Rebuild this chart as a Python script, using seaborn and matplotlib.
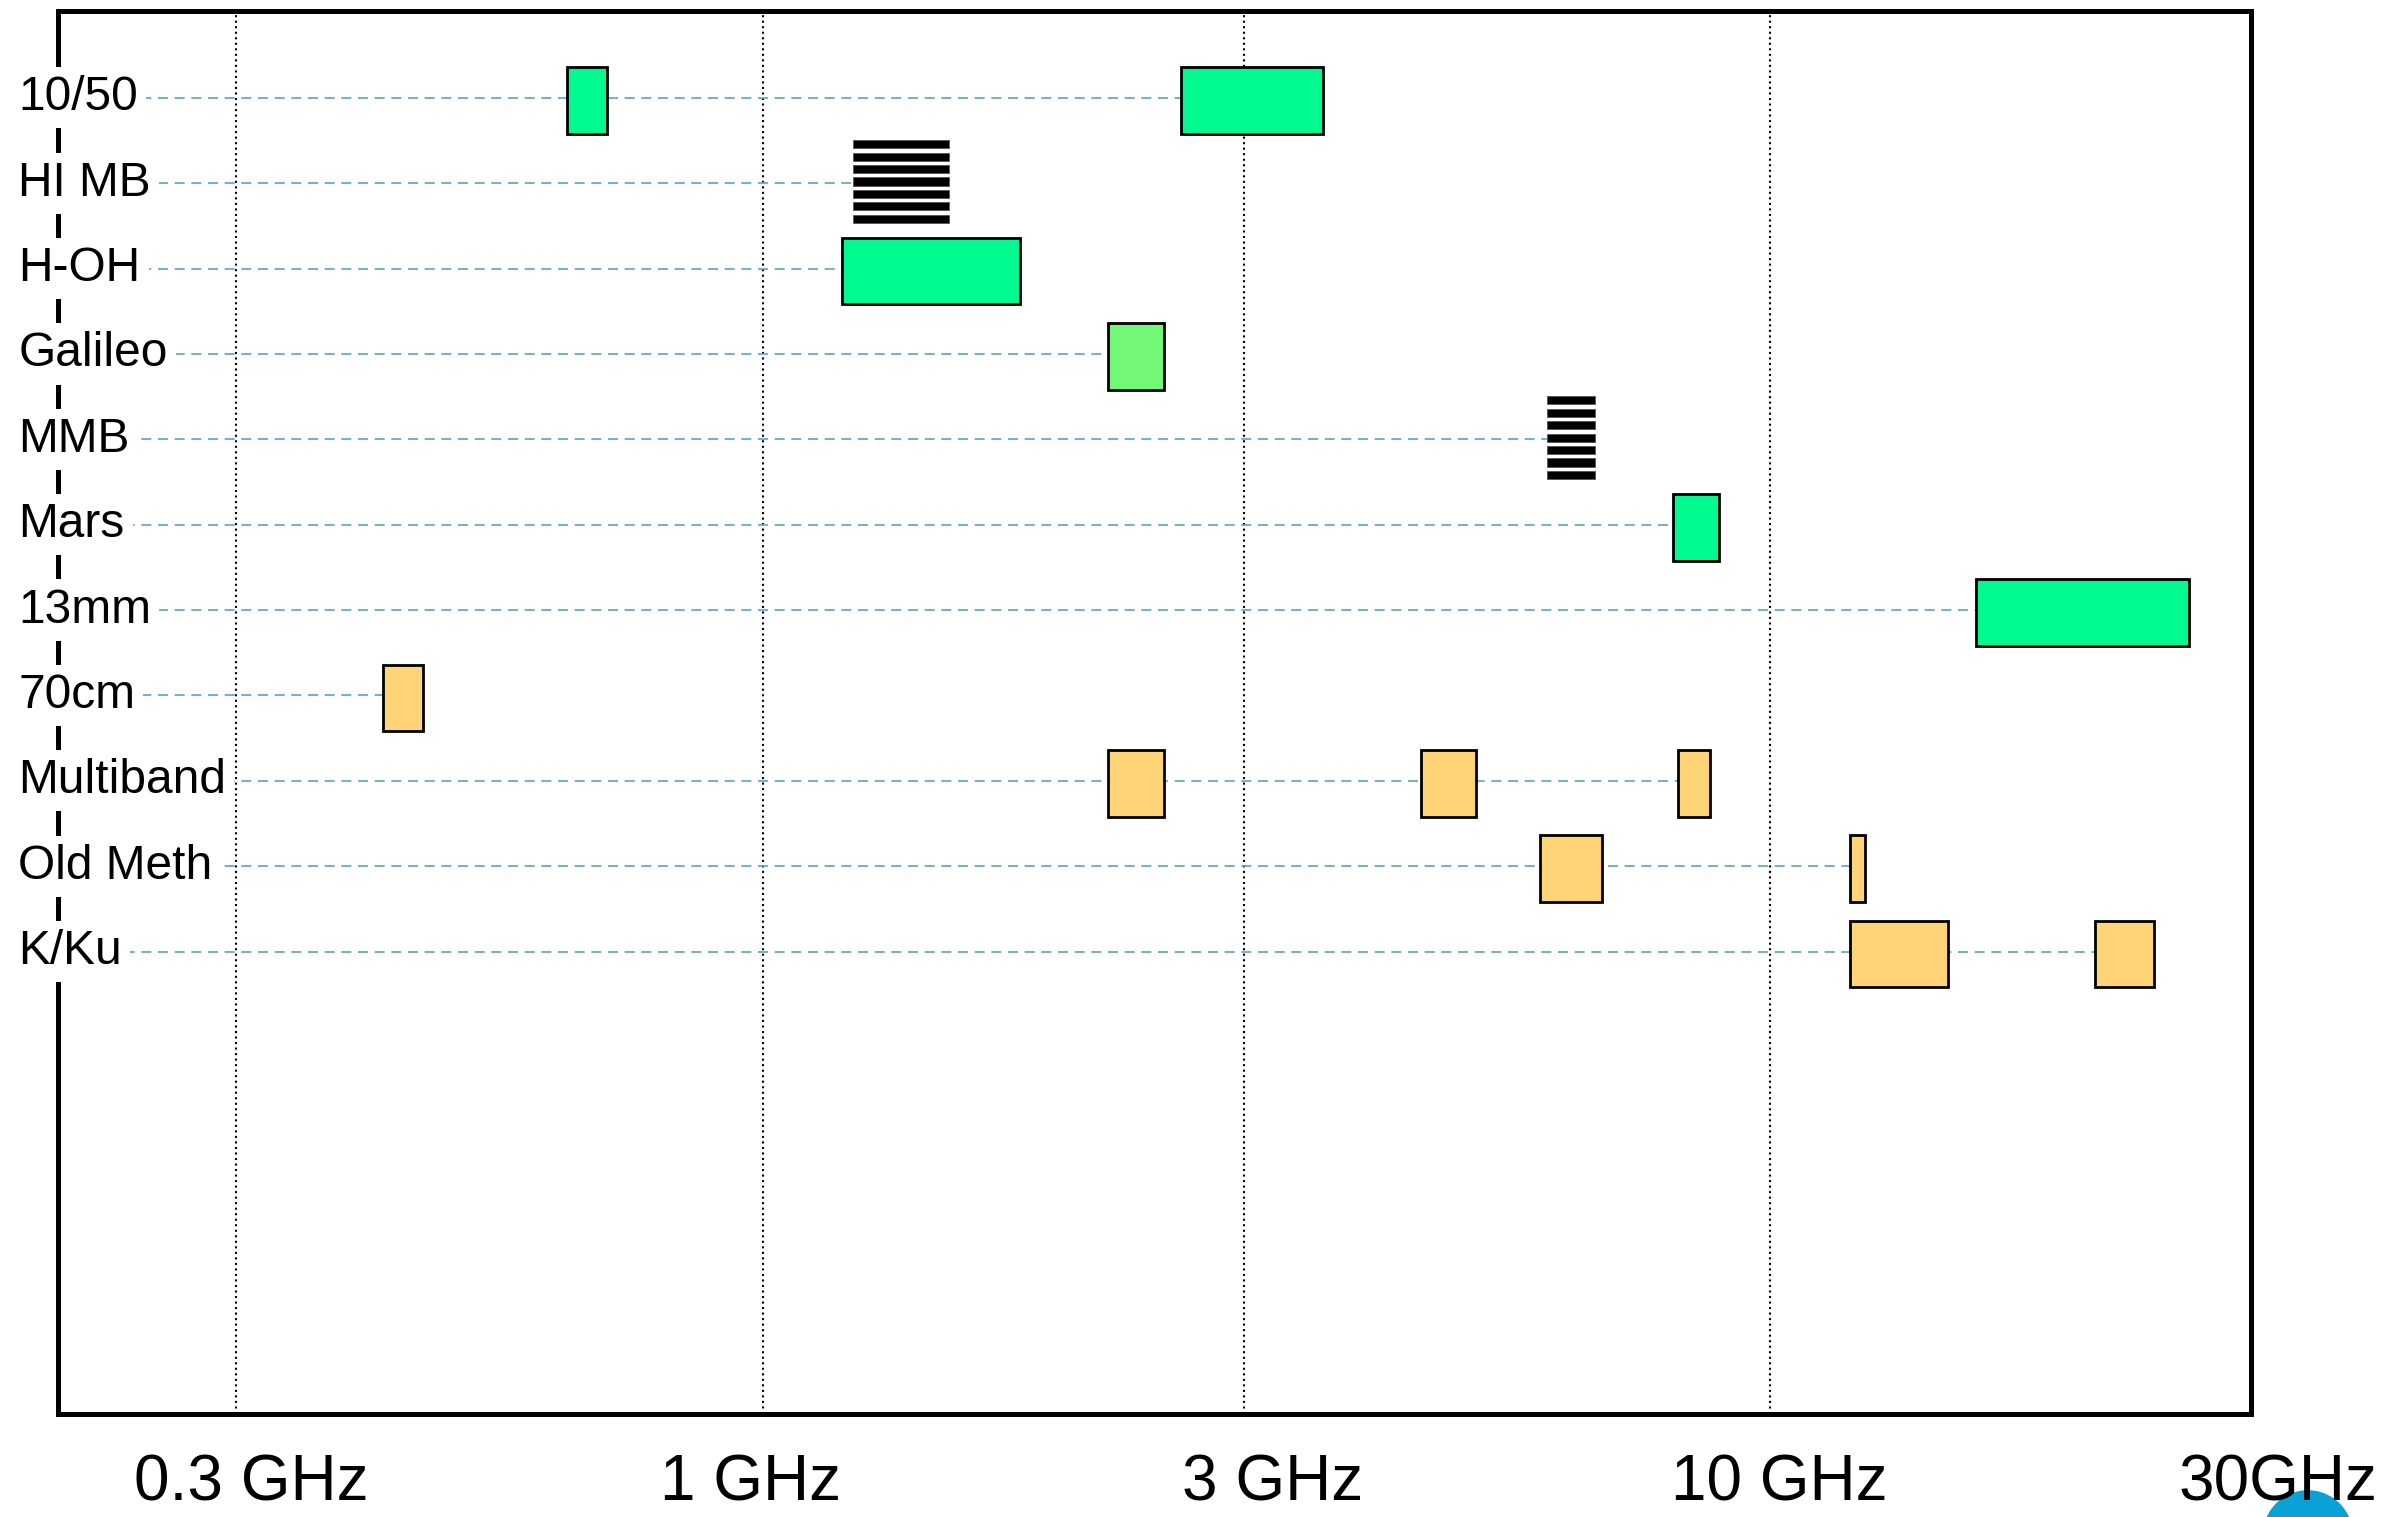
import numpy as np
import pandas as pd
import matplotlib
matplotlib.use("Agg")
import matplotlib.pyplot as plt
import matplotlib.transforms as mtransforms
from matplotlib.patches import Ellipse
from matplotlib.ticker import NullLocator
import seaborn as sns

# receiver / band rows, top to bottom
bands = ["10/50", "HI MB", "H-OH", "Galileo", "MMB", "Mars", "13mm",
         "70cm", "Multiband", "Old Meth", "K/Ku"]

# frequency coverage of each box (GHz)
seg_band = ["10/50", "10/50", "HI MB", "H-OH", "Galileo", "MMB", "Mars", "13mm",
            "70cm", "Multiband", "Multiband", "Multiband",
            "Old Meth", "Old Meth", "K/Ku", "K/Ku"]
seg_lo = [0.64, 2.6, 1.23, 1.2, 2.2, 6.0, 8.0, 16.0,
          0.42, 2.2, 4.5, 8.1, 5.9, 12.0, 12.0, 21.0]
seg_hi = [0.70, 3.6, 1.53, 1.8, 2.5, 6.7, 8.9, 26.0,
          0.46, 2.5, 5.1, 8.7, 6.8, 12.4, 15.0, 24.0]
seg_kind = ["green", "green", "striped", "green", "lightgreen", "striped", "green", "green",
            "orange", "orange", "orange", "orange", "orange", "orange", "orange", "orange"]

tick_freqs = [0.3, 1, 3, 10, 30]
tick_labels = ["0.3 GHz", "1 GHz", "3 GHz", "10 GHz", "30GHz"]
# the labels in the original are not quite centred on their ticks (points)
tick_nudge = [11, -9, 21, 6, 19]

kind_colors = {"green": "#00fa90", "lightgreen": "#73f777", "orange": "#fed477"}

df = pd.DataFrame({"band": seg_band, "lo": seg_lo, "hi": seg_hi, "kind": seg_kind})
df["row"] = df["band"].map({b: i for i, b in enumerate(bands)})

sns.set_theme(style="white")
plt.rcParams["font.family"] = ["Liberation Sans", "DejaVu Sans"]

fig = plt.figure(figsize=(24.03, 15.17), dpi=100)
ax = fig.add_axes([0.0242, 0.0677, 0.9127, 0.9252])
ax.set_xscale("log")
ax.set_xlim(0.2, 30)
ax.set_ylim(15.42, -1.02)

# dashed guide lines, from the left edge to the last box of each row
last_lo = df.groupby("band")["lo"].max()
guides = pd.DataFrame({
    "band": np.repeat(bands, 2),
    "freq": np.ravel([[0.2, last_lo[b]] for b in bands]),
    "row": np.repeat(np.arange(len(bands)), 2),
})
sns.lineplot(data=guides, x="freq", y="row", units="band", estimator=None,
             color="#5b9fd0", linewidth=1.2, linestyle=(0, (6, 4)), ax=ax, zorder=2)

# filled boxes
for kind, color in kind_colors.items():
    sub = df[df["kind"] == kind]
    ax.barh(sub["row"] + 0.03, sub["hi"] - sub["lo"], left=sub["lo"], height=0.78,
            color=color, edgecolor="black", linewidth=2.0, zorder=3)

# striped boxes (multibeam receivers)
n_stripes = 7
offsets = (np.arange(n_stripes) + 0.5) / n_stripes * 1.02 - 0.53
for _, s in df[df["kind"] == "striped"].iterrows():
    ax.barh(s["row"] + offsets, s["hi"] - s["lo"], left=s["lo"], height=0.095,
            color="black", edgecolor="#555555", linewidth=0.6, zorder=3)

ax.grid(axis="x", color="black", linestyle=":", linewidth=1.5)
ax.grid(axis="y", visible=False)
ax.set_xticks(tick_freqs, tick_labels)
ax.xaxis.set_minor_locator(NullLocator())
ax.set_yticks([])
ax.tick_params(axis="x", length=0, pad=28, labelsize=46, colors="black")
ax.set_xlabel("")
ax.set_ylabel("")
for lbl, dx in zip(ax.get_xticklabels(), tick_nudge):
    lbl.set_transform(lbl.get_transform() + mtransforms.ScaledTranslation(dx / 72, 0, fig.dpi_scale_trans))

for sp in ax.spines.values():
    sp.set_color("black")
    sp.set_linewidth(3.6)

# row labels sit over the left spine on white boxes
trans = mtransforms.blended_transform_factory(ax.transAxes, ax.transData)
for i, b in enumerate(bands):
    ax.text(-0.0182, i, b, transform=trans, ha="left", va="center", fontsize=34.5,
            color="black", zorder=6, clip_on=False,
            bbox=dict(facecolor="white", edgecolor="none", pad=6))

# partial logo peeking in at the bottom right corner
fig.patches.append(Ellipse((0.9604, -0.012), 90 / 2403, 90 / 1517, transform=fig.transFigure,
                           facecolor="#0aa0d8", edgecolor="none", zorder=-1))

fig.savefig("out.png", dpi=100)
